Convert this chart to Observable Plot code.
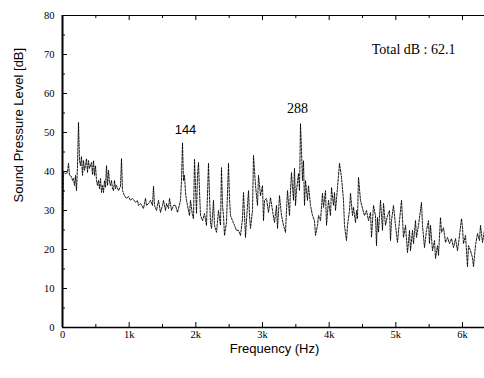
<!DOCTYPE html>
<html><head><meta charset="utf-8">
<script src="https://cdn.jsdelivr.net/npm/d3@7"></script>
<script src="https://cdn.jsdelivr.net/npm/@observablehq/plot@0.6"></script>
<style>body{margin:0;background:#fff}</style>
</head><body><div id="chart"></div>
<script>
const freq = [0,15,45,75,90,105,135,150,165,180,195,210,225,240,255,270,285,300,315,330,345,360,375,390,405,435,450,465,480,495,510,525,540,555,570,585,600,615,630,645,660,675,690,705,720,735,750,765,780,795,810,840,870,885,900,930,960,990,1020,1050,1095,1125,1140,1170,1215,1245,1260,1290,1320,1350,1365,1380,1410,1440,1470,1500,1515,1545,1560,1590,1605,1635,1665,1695,1725,1770,1785,1800,1815,1830,1845,1860,1875,1905,1920,1950,1965,1980,2010,2025,2040,2055,2070,2100,2130,2160,2190,2205,2220,2235,2250,2265,2280,2310,2340,2370,2385,2400,2415,2430,2460,2490,2505,2520,2550,2580,2610,2640,2670,2700,2715,2745,2760,2790,2805,2820,2850,2865,2895,2925,2940,2970,3000,3015,3030,3060,3090,3120,3150,3180,3210,3225,3255,3285,3315,3345,3360,3375,3405,3420,3435,3465,3480,3495,3510,3540,3555,3570,3585,3600,3615,3630,3645,3675,3690,3720,3750,3780,3795,3825,3840,3870,3900,3915,3945,3960,3990,4020,4035,4065,4080,4095,4125,4155,4185,4215,4230,4260,4275,4305,4320,4350,4365,4395,4410,4425,4440,4470,4500,4530,4560,4590,4620,4635,4665,4695,4710,4725,4740,4770,4800,4815,4845,4875,4905,4920,4935,4965,4995,5025,5055,5085,5115,5145,5175,5205,5220,5250,5265,5295,5310,5340,5385,5400,5430,5460,5490,5505,5520,5550,5580,5595,5625,5640,5670,5685,5715,5745,5775,5805,5835,5865,5895,5925,5955,5985,6000,6015,6045,6075,6090,6120,6150,6165,6195,6225,6255,6270,6300,6330];
const level = [22.3,39.7,39.5,39.7,42.1,39.0,38.7,37.7,38.2,36.4,39.0,35.1,41.5,52.6,42.8,41.5,43.8,39.0,42.8,40.3,41.5,43.3,39.7,42.8,40.8,42.3,39.2,42.8,39.0,41.5,37.7,36.4,37.7,35.6,38.2,34.6,36.4,34.6,37.7,35.9,41.5,36.4,40.3,37.2,36.4,37.7,35.6,35.1,37.7,35.6,36.4,35.1,36.2,43.3,35.1,33.8,33.1,33.6,32.6,33.1,32.1,32.6,31.3,31.8,30.5,33.1,31.3,31.8,32.6,31.3,36.2,31.3,30.0,32.6,29.5,31.3,32.6,30.0,31.8,30.5,33.1,30.0,31.3,31.3,29.5,32.6,37.7,47.4,37.7,39.0,34.6,32.6,31.3,28.7,32.6,28.7,27.9,43.1,29.2,39.0,42.3,35.1,28.7,27.4,29.2,26.2,42.1,33.8,26.9,25.4,28.7,32.6,26.2,24.4,30.0,26.2,41.0,31.3,28.7,23.6,26.9,42.1,33.1,28.7,27.4,26.2,24.9,24.9,23.6,27.9,34.6,23.1,27.4,35.1,28.7,25.4,30.0,44.1,36.4,31.3,39.0,33.8,36.4,27.4,32.6,33.1,29.5,33.3,30.0,26.9,31.3,25.4,33.8,28.7,26.2,24.4,30.0,35.1,28.7,35.1,39.7,32.6,40.8,31.3,35.1,39.5,35.1,52.3,45.4,37.7,42.8,31.3,37.7,32.6,36.4,31.3,28.7,27.4,23.6,26.2,28.7,27.4,34.4,30.8,35.1,26.2,32.6,28.7,35.9,31.3,34.6,30.0,35.9,42.1,38.5,32.6,26.2,22.3,26.2,30.0,34.4,28.7,30.8,26.9,30.0,27.9,38.5,32.6,30.5,28.7,30.0,27.4,29.5,23.1,31.3,28.7,21.0,28.2,24.4,32.6,24.9,31.8,26.2,28.7,30.0,22.3,27.4,31.3,26.2,21.8,27.4,32.6,23.1,26.2,19.2,24.9,19.7,24.9,21.5,27.4,23.1,26.2,32.1,26.2,20.5,24.9,27.4,21.5,26.2,19.7,22.3,17.7,21.0,18.5,28.2,24.4,25.6,21.8,23.1,21.5,22.8,20.5,22.8,19.7,23.6,27.9,25.6,21.5,23.6,15.6,21.0,19.7,17.9,15.6,21.0,24.1,22.3,26.2,21.8,24.9];

const peakLabels = ["144", "288"];
const peakFreq = [1800, 3570];
const peakLevel = [47.4, 52.3];
const totalLabel = ["Total dB : 62.1"];
const xMajor = [0, 1000, 2000, 3000, 4000, 5000, 6000];
const xMajorLabels = ["0", "1k", "2k", "3k", "4k", "5k", "6k"];
const xMinor = [500, 1500, 2500, 3500, 4500, 5500];
const yMajor = [0, 10, 20, 30, 40, 50, 60, 70, 80];
const yMinor = [5, 15, 25, 35, 45, 55, 65, 75];
const xTitle = ["Frequency (Hz)"];
const yTitle = ["Sound Pressure Level [dB]"];

const spectrum = freq.map((f, i) => ({f, db: level[i]}));
const peaks = peakLabels.map((t, i) => ({t, f: peakFreq[i], db: peakLevel[i]}));

const serif = "'Liberation Serif', 'Times New Roman', serif";
const sans = "'Liberation Sans', Arial, sans-serif";
const blank = () => "";

const chart = Plot.plot({
  width: 484, height: 378,
  marginLeft: 62, marginRight: 0, marginTop: 15, marginBottom: 51,
  x: {domain: [0, 6330]},
  y: {domain: [0, 80]},
  style: {background: "#fff", color: "#000"},
  marks: [
    Plot.line(spectrum, {x: "f", y: "db", stroke: "#000", strokeWidth: 0.9, strokeDasharray: "2.2,1.3"}),
    Plot.ruleY([0], {stroke: "#000", strokeWidth: 1.5}),
    Plot.ruleY([80], {stroke: "#000", strokeWidth: 1.2}),
    Plot.ruleX([0], {stroke: "#000", strokeWidth: 2}),
    Plot.axisX({ticks: xMajor, tickSize: -5, tickPadding: 8, tickFormat: d => xMajorLabels[xMajor.indexOf(d)], fontFamily: serif, fontSize: 10.5, label: null}),
    Plot.axisX({ticks: xMinor, tickSize: -3, tickFormat: blank, label: null}),
    Plot.axisX({anchor: "top", ticks: xMajor, tickSize: -4, tickFormat: blank, label: null}),
    Plot.axisX({anchor: "top", ticks: xMinor, tickSize: -2, tickFormat: blank, label: null}),
    Plot.axisY({ticks: yMajor, tickSize: -5, tickPadding: 13, fontFamily: serif, fontSize: 10.5, label: null}),
    Plot.axisY({ticks: yMinor, tickSize: -3, tickFormat: blank, label: null}),
    Plot.text(peaks.slice(0, 1), {x: "f", y: "db", text: "t", dx: 3, dy: -13, fontFamily: sans, fontSize: 13, fill: "#000"}),
    Plot.text(peaks.slice(1), {x: "f", y: "db", text: "t", dx: -3, dy: -15, fontFamily: serif, fontSize: 14, fill: "#000"}),
    Plot.text(totalLabel, {text: d => d, frameAnchor: "top-right", textAnchor: "end", dx: -29, dy: 29, fontFamily: serif, fontSize: 14, fill: "#000"}),
    Plot.text(xTitle, {text: d => d, frameAnchor: "bottom", dx: 1, dy: 25, fontFamily: sans, fontSize: 13, fill: "#000"}),
    Plot.text(yTitle, {text: d => d, frameAnchor: "left", rotate: -90, dx: -44, dy: 31, fontFamily: sans, fontSize: 13, fill: "#000"})
  ]
});
document.getElementById("chart").appendChild(chart);
</script>
</body></html>
